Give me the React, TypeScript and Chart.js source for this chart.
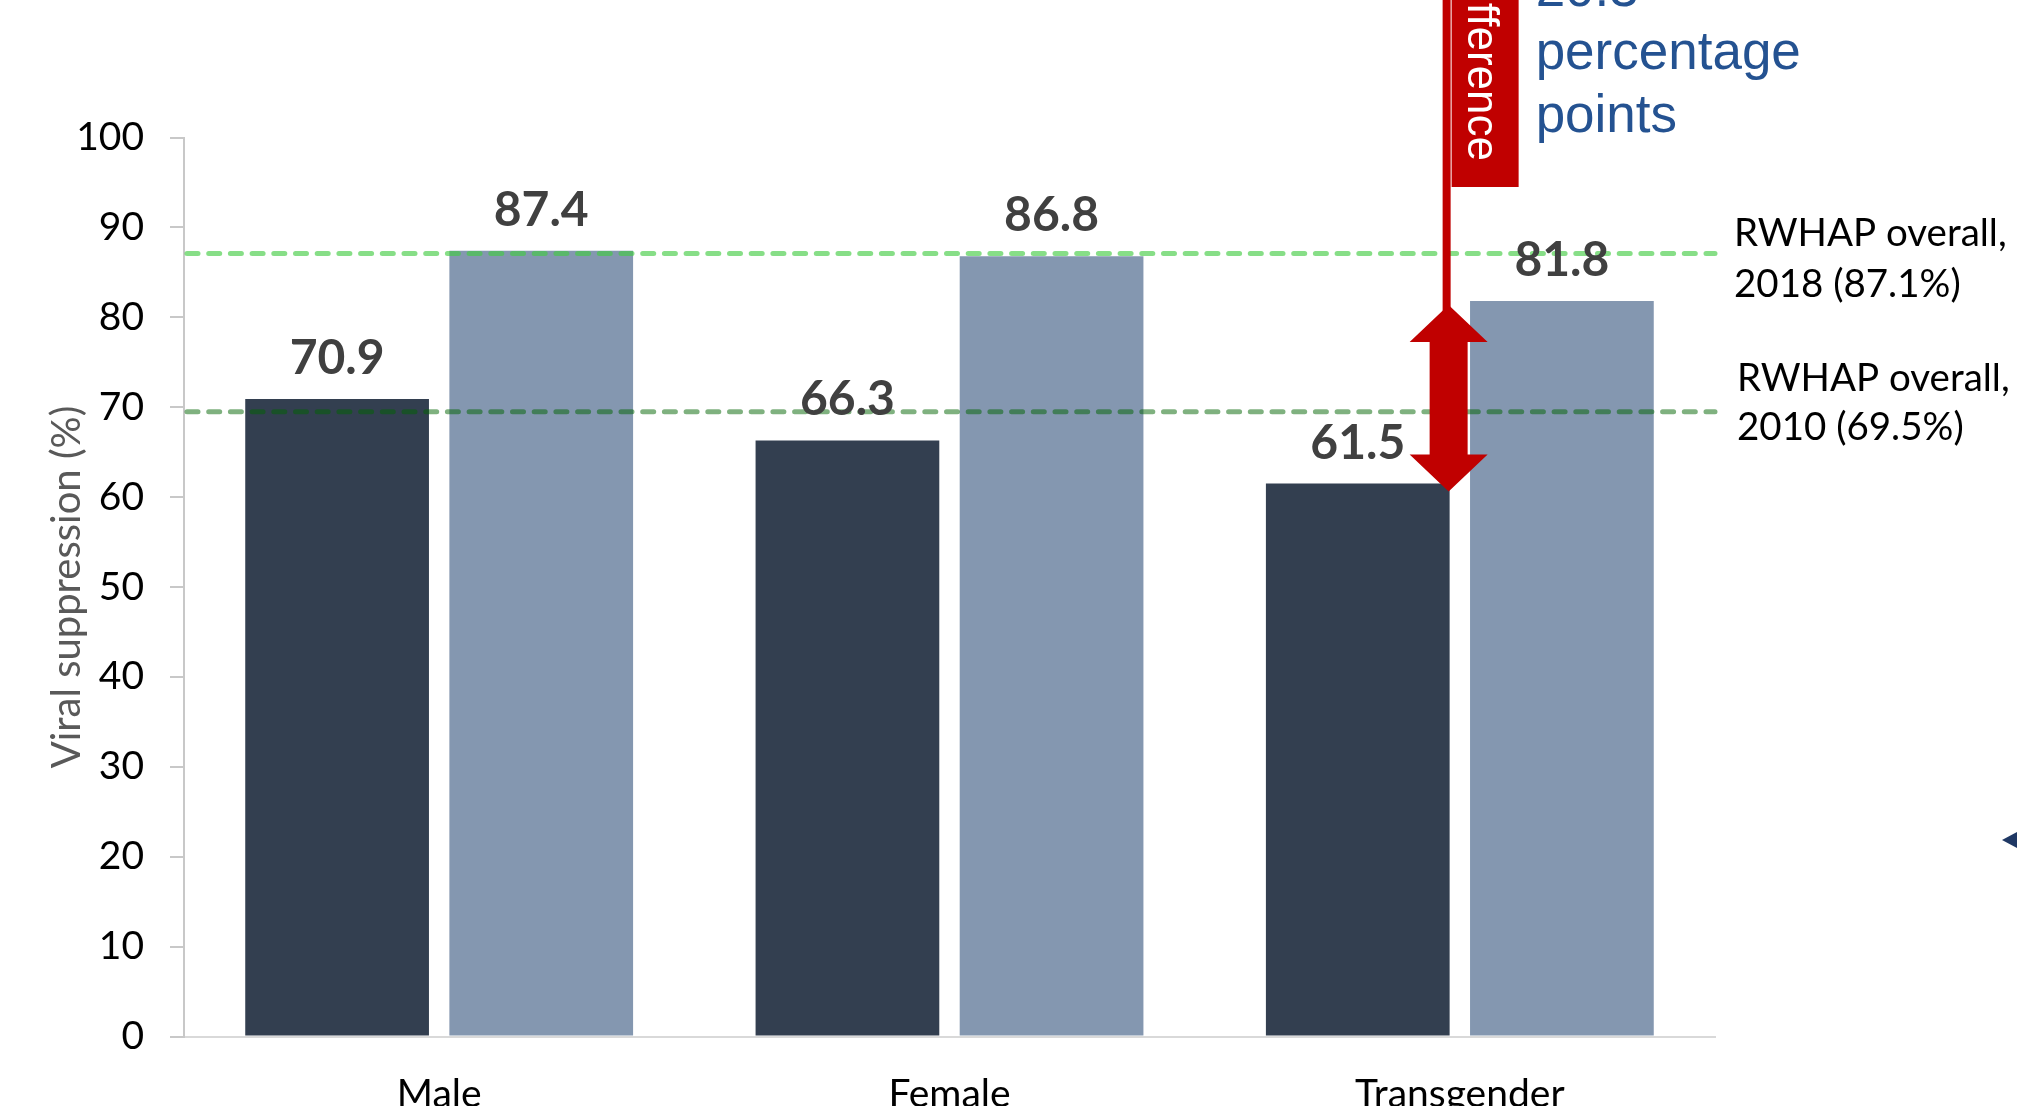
import React, { useEffect, useRef } from 'react';
import { Chart, registerables } from 'chart.js';

Chart.register(...registerables);

// Viral suppression by gender, 2010 vs 2018
const categories = ['Male', 'Female', 'Transgender'];
const seriesNames = ['2010', '2018'];
const suppression2010 = [70.9, 66.3, 61.5];
const suppression2018 = [87.4, 86.8, 81.8];

// RWHAP overall reference values
const overallYears = ['2018', '2010'];
const overallValues = [87.1, 69.5];

const yTicks = [0, 10, 20, 30, 40, 50, 60, 70, 80, 90, 100];

const WIDTH = 2017;
const HEIGHT = 1106;
const TEXT_FONT = 'Lato, "Open Sans", sans-serif';
const CALLOUT_FONT = '"Liberation Sans", Arial, sans-serif';

const refLineColors = ['rgba(67,204,67,0.64)', 'rgba(0,100,0,0.5)'];
const refLabelX = [1734, 1737];
const refLabelBaselines = [
  [246, 297],
  [391, 440],
];

const overlayPlugin = {
  id: 'overlay',
  afterDatasetsDraw(chart: any) {
    const { ctx, chartArea, scales } = chart;
    const y = scales.y;
    ctx.save();

    // dashed RWHAP overall lines
    overallValues.forEach((v, i) => {
      const py = y.getPixelForValue(v);
      ctx.beginPath();
      ctx.setLineDash([11, 10.7]);
      ctx.lineCap = 'round';
      ctx.lineWidth = 5;
      ctx.strokeStyle = refLineColors[i];
      ctx.moveTo(chartArea.left + 3, py);
      ctx.lineTo(chartArea.right, py);
      ctx.stroke();
    });
    ctx.setLineDash([]);

    // value labels above bars
    ctx.font = `bold 48px ${TEXT_FONT}`;
    ctx.fillStyle = '#404040';
    ctx.textAlign = 'center';
    ctx.textBaseline = 'alphabetic';
    chart.data.datasets.forEach((ds: any, di: number) => {
      chart.getDatasetMeta(di).data.forEach((bar: any, i: number) => {
        ctx.fillText(Number(ds.data[i]).toFixed(1), bar.x, bar.y - 25);
      });
    });

    // reference line labels
    ctx.font = `38.5px ${TEXT_FONT}`;
    ctx.fillStyle = '#000000';
    ctx.textAlign = 'left';
    overallYears.forEach((yr, i) => {
      const [b1, b2] = refLabelBaselines[i];
      ctx.fillText('RWHAP overall,', refLabelX[i], b1);
      ctx.fillText(`${yr} (${overallValues[i].toFixed(1)}%)`, refLabelX[i], b2);
    });

    // red double arrow spanning the transgender gap
    const dark = chart.getDatasetMeta(0).data[2];
    const light = chart.getDatasetMeta(1).data[2];
    const ax = dark.x + dark.width / 2 - 1;
    const top = light.y + 4;
    const bot = dark.y + 8;
    const headH = 37;
    const headW = 39;
    const shaftW = 19;
    ctx.fillStyle = '#C00000';
    ctx.fillRect(ax - 6, 0, 8, top + 20);
    ctx.fillRect(ax + 3, 0, 67, 187);
    ctx.beginPath();
    ctx.moveTo(ax, top);
    ctx.lineTo(ax + headW, top + headH);
    ctx.lineTo(ax + shaftW, top + headH);
    ctx.lineTo(ax + shaftW, bot - headH);
    ctx.lineTo(ax + headW, bot - headH);
    ctx.lineTo(ax, bot);
    ctx.lineTo(ax - headW, bot - headH);
    ctx.lineTo(ax - shaftW, bot - headH);
    ctx.lineTo(ax - shaftW, top + headH);
    ctx.lineTo(ax - headW, top + headH);
    ctx.closePath();
    ctx.fill();

    // vertical caption inside the red box
    ctx.save();
    ctx.translate(ax + 36.5, 0);
    ctx.rotate(Math.PI / 2);
    ctx.font = `44px ${CALLOUT_FONT}`;
    ctx.fillStyle = '#FFFFFF';
    ctx.textAlign = 'right';
    ctx.fillText('difference', 161, 17.5);
    ctx.restore();

    // difference callout text
    const diff = (suppression2018[2] - suppression2010[2]).toFixed(1);
    ctx.font = `53px ${CALLOUT_FONT}`;
    ctx.fillStyle = '#245291';
    ctx.textAlign = 'left';
    [diff, 'percentage', 'points'].forEach((t, i) => {
      ctx.fillText(t, ax + 87, 6 + i * 63);
    });

    // pointer tip at the right edge
    ctx.fillStyle = '#1F3864';
    ctx.beginPath();
    ctx.moveTo(chart.width - 15, 840);
    ctx.lineTo(chart.width, 832);
    ctx.lineTo(chart.width, 848);
    ctx.closePath();
    ctx.fill();

    ctx.restore();
  },
};

export default function App() {
  const canvasRef = useRef<HTMLCanvasElement>(null);

  useEffect(() => {
    if (!canvasRef.current) return;
    const chart = new Chart(canvasRef.current, {
      type: 'bar',
      data: {
        labels: categories,
        datasets: [
          {
            label: seriesNames[0],
            data: suppression2010,
            backgroundColor: '#333F50',
            borderWidth: 0,
            categoryPercentage: 0.8,
            barPercentage: 0.9,
          },
          {
            label: seriesNames[1],
            data: suppression2018,
            backgroundColor: '#8497B0',
            borderWidth: 0,
            categoryPercentage: 0.8,
            barPercentage: 0.9,
          },
        ],
      },
      options: {
        responsive: false,
        animation: false,
        devicePixelRatio: 1,
        layout: { padding: { top: 137.5, right: 302, bottom: 0, left: 0 } },
        plugins: {
          legend: { display: false },
          tooltip: { enabled: false },
        },
        scales: {
          x: {
            grid: { display: false, drawTicks: false },
            border: { display: true, color: '#D9D9D9', width: 2 },
            ticks: {
              color: '#000000',
              font: { family: TEXT_FONT, size: 39 },
              padding: 35,
            },
            afterFit: (s: any) => {
              s.height = 69.5;
            },
          },
          y: {
            min: 0,
            max: 100,
            afterBuildTicks: (s: any) => {
              s.ticks = yTicks.map((v) => ({ value: v }));
            },
            ticks: {
              color: '#000000',
              font: { family: TEXT_FONT, size: 39 },
              padding: 26,
            },
            grid: {
              drawOnChartArea: false,
              drawTicks: true,
              tickLength: 14,
              color: '#C8C8C8',
              lineWidth: 2,
            },
            border: { display: true, color: '#C8C8C8', width: 2 },
            title: {
              display: true,
              text: 'Viral suppression (%)',
              color: '#595959',
              font: { family: TEXT_FONT, size: 40 },
              padding: { top: 43, bottom: 0 },
            },
            afterFit: (s: any) => {
              s.width = 184;
            },
          },
        },
      },
      plugins: [overlayPlugin],
    } as any);
    return () => chart.destroy();
  }, []);

  return (
    <div
      style={{
        position: 'fixed',
        left: 0,
        top: 0,
        width: WIDTH,
        height: HEIGHT,
        background: '#FFFFFF',
      }}
    >
      <canvas
        ref={canvasRef}
        width={WIDTH}
        height={HEIGHT}
        style={{ display: 'block', width: WIDTH, height: HEIGHT }}
      />
    </div>
  );
}
